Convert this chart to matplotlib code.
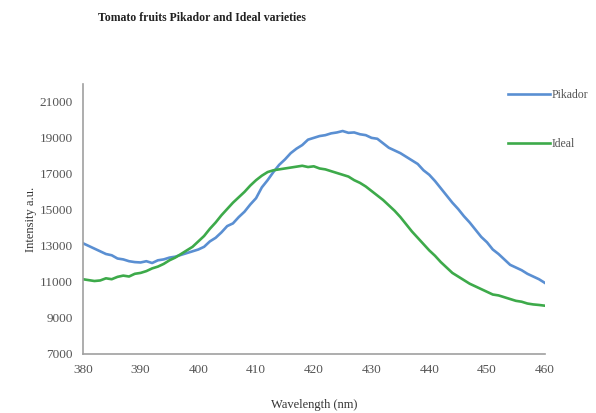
import matplotlib.pyplot as plt

plt.rcParams['font.family'] = ['Liberation Serif', 'DejaVu Serif']

wavelength = list(range(380, 461))

pikador = [
    13150, 13000, 12850, 12700, 12550, 12480, 12300, 12250, 12150, 12100,
    12080, 12150, 12050, 12200, 12250, 12350, 12400, 12500, 12600, 12700,
    12800, 12950, 13250, 13450, 13750, 14100, 14250, 14600, 14900, 15300,
    15650, 16250, 16650, 17100, 17500, 17800, 18150, 18400, 18600, 18900,
    19000, 19100, 19150, 19250, 19300, 19380, 19280, 19300, 19200, 19150,
    19000, 18950, 18700, 18450, 18300, 18150, 17950, 17750, 17550, 17200,
    16950, 16600, 16200, 15800, 15400, 15050, 14650, 14300, 13900, 13500,
    13200, 12800, 12550, 12250, 11950, 11800, 11650, 11450, 11300, 11150,
    10950,
]

ideal = [
    11150, 11100, 11050, 11080, 11200, 11150, 11280, 11350, 11300, 11450,
    11500, 11600, 11750, 11850, 12000, 12200, 12350, 12550, 12750, 12950,
    13250, 13550, 13950, 14300, 14700, 15050, 15400, 15700, 16000, 16350,
    16650, 16900, 17100, 17200, 17250, 17300, 17350, 17400, 17450, 17380,
    17420, 17300, 17250, 17150, 17050, 16950, 16850, 16650, 16500, 16300,
    16050, 15800, 15550, 15250, 14950, 14600, 14200, 13800, 13450, 13100,
    12750, 12450, 12100, 11800, 11500, 11300, 11100, 10900, 10750, 10600,
    10450, 10300, 10250, 10150, 10050, 9950, 9900, 9800, 9750, 9720,
    9680,
]

x_ticks = list(range(380, 461, 10))
y_ticks = list(range(7000, 21001, 2000))

fig = plt.figure(figsize=(5.96, 4.13), dpi=100)
ax = fig.add_axes([0.139, 0.143, 0.775, 0.654])

ax.plot(wavelength, pikador, color='#5a8fd2', linewidth=1.9, label='Pikador')
ax.plot(wavelength, ideal, color='#3daa4a', linewidth=1.9, label='Ideal')

ax.set_xlim(380, 460)
ax.set_ylim(7000, 22000)
ax.set_xticks(x_ticks)
ax.set_yticks(y_ticks)
ax.tick_params(length=0, labelsize=9.5, colors='#555555', pad=7)

for side in ['top', 'right']:
    ax.spines[side].set_visible(False)
for side in ['left', 'bottom']:
    ax.spines[side].set_color('#a0a0a0')
    ax.spines[side].set_linewidth(1.2)

ax.set_ylabel('Intensity a.u.', fontsize=9, color='#333333', labelpad=2)
ax.set_xlabel('Wavelength (nm)', fontsize=9, color='#333333', labelpad=17)

fig.text(0.165, 0.948, 'Tomato fruits Pikador and Ideal varieties',
         fontsize=8.5, color='#222222', fontweight='bold')

ax.legend(loc='upper left', bbox_to_anchor=(0.898, 1.02), frameon=False,
          handlelength=3.5, labelspacing=3.1, fontsize=8.5, handletextpad=0.2,
          labelcolor='#555555')

fig.savefig('out.png', dpi=100)
